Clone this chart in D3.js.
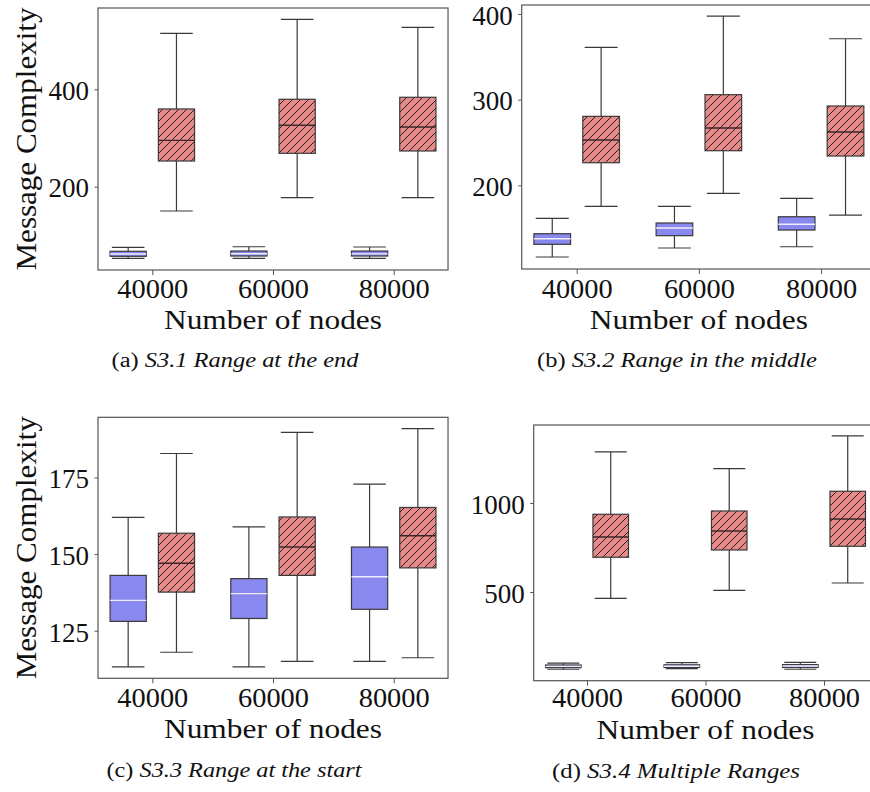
<!DOCTYPE html>
<html>
<head>
<meta charset="utf-8">
<script src="https://cdn.jsdelivr.net/npm/d3@7/dist/d3.min.js"></script>
<style>
  html, body { margin: 0; padding: 0; background: #fff; }
  svg { display: block; }
  text { font-family: "Liberation Serif", "DejaVu Serif", serif; }
</style>
</head>
<body>
<svg id="chart" width="870" height="792"></svg>
<script>
// ---------- data ----------
const categories = ["40000", "60000", "80000"];
const xLabel = "Number of nodes";
const yLabel = "Message Complexity";

// each entry: [lower whisker, Q1, median, Q3, upper whisker]
const blueA = [[52.8, 56.9, 61.6, 67.2, 75.4], [52.8, 57.5, 62.3, 67.8, 76.6], [52.8, 57.5, 62.0, 67.8, 76.0]];
const redA  = [[150, 252.7, 295, 359.6, 515], [177.3, 268.5, 326, 379.5, 543.8], [177.3, 273.3, 322.6, 383.6, 527.4]];
const blueB = [[116.3, 131.1, 137.7, 143.5, 161.5], [126.8, 141.2, 150.2, 156, 175.5], [128.3, 147.8, 154.5, 163.3, 184.8]];
const redB  = [[175.5, 226.4, 252.9, 280.5, 361], [190.7, 240.4, 266.9, 305.8, 397.6], [165.3, 234.2, 262.2, 292.6, 371.1]];
const blueC = [[113.2, 128.05, 134.9, 143.05, 162], [113.2, 129, 137.1, 142, 158.9], [115, 132, 142.6, 152.3, 172.8]];
const redC  = [[118, 137.6, 147, 156.8, 182.8], [115, 143.05, 152.3, 162.1, 189.7], [116.2, 145.5, 156, 165.2, 190.9]];
const blueD = [[66, 75, 82, 90, 100], [69, 76, 83, 91, 103], [66, 76, 84, 92, 105]];
const redD  = [[464.6, 695, 809, 936.5, 1286.5], [509.5, 736, 842.7, 955, 1192.7], [550.6, 756.7, 910, 1065.7, 1376.4]];

const yDomainA = [28.8, 567];    const yTicksA = [200, 400];
const yDomainB = [102.3, 410.5]; const yTicksB = [200, 300, 400];
const yDomainC = [109.5, 194.6]; const yTicksC = [125, 150, 175];
const yDomainD = [1.7, 1438];    const yTicksD = [500, 1000];

const captionLetters = ["(a) ", "(b) ", "(c) ", "(d) "];
const captionTitles = ["S3.1 Range at the end", "S3.2 Range in the middle", "S3.3 Range at the start", "S3.4 Multiple Ranges"];

// ---------- styles ----------
const blueFill = "#8888ee";
const redFill = "#e88a8a";
const edge = "#3a3a3a";
const frameColor = "#555";
const serif = '"Liberation Serif", "DejaVu Serif", serif';

const svg = d3.select("#chart");

// hatch pattern
const defs = svg.append("defs");
const pat = defs.append("pattern")
  .attr("id", "hatch").attr("patternUnits", "userSpaceOnUse")
  .attr("width", 8).attr("height", 8);
pat.append("rect").attr("width", 8).attr("height", 8).attr("fill", redFill);
pat.append("path").attr("d", "M-2,2 L2,-2 M0,8 L8,0 M6,10 L10,6")
  .attr("stroke", "#222").attr("stroke-width", 1);

const panels = [
  { blue: blueA, red: redA, yDomain: yDomainA, yTicks: yTicksA, left: 98, top: 8, step: 120.7, bottom: 270, showY: true,
    tickBase: 298, labelBase: 328.5, capX: 235, capY: 367, capW: 247 },
  { blue: blueB, red: redB, yDomain: yDomainB, yTicks: yTicksB, left: 521.7, top: 5, step: 122.2, bottom: 269, showY: false,
    tickBase: 298, labelBase: 328.5, capX: 677, capY: 367, capW: 280 },
  { blue: blueC, red: redC, yDomain: yDomainC, yTicks: yTicksC, left: 98, top: 417.3, step: 120.7, bottom: 678.3, showY: true,
    tickBase: 707.5, labelBase: 737.5, capX: 234, capY: 777, capW: 255 },
  { blue: blueD, red: redD, yDomain: yDomainD, yTicks: yTicksD, left: 533.7, top: 425, step: 118.5, bottom: 680.7, showY: false,
    tickBase: 707.5, labelBase: 739, capX: 676, capY: 778, capW: 248 }
];

panels.forEach((p, pi) => {
  const right = p.left + 2.9 * p.step;
  const x = d3.scaleLinear().domain([-0.45, 2.45]).range([p.left, right]);
  const y = d3.scaleLinear().domain(p.yDomain).range([p.bottom, p.top]);
  const g = svg.append("g");

  const bw = 0.3 * p.step;
  const capW = 0.45 * bw;

  function drawBoxes(stats, offset, fill, medColor) {
    stats.forEach((s, i) => {
      const cx = x(i + offset);
      const [lo, q1, med, q3, hi] = s;
      const bg = g.append("g");
      bg.append("line").attr("x1", cx).attr("x2", cx).attr("y1", y(q3)).attr("y2", y(hi))
        .attr("stroke", edge).attr("stroke-width", 1.2);
      bg.append("line").attr("x1", cx).attr("x2", cx).attr("y1", y(lo)).attr("y2", y(q1))
        .attr("stroke", edge).attr("stroke-width", 1.2);
      bg.append("line").attr("x1", cx - capW).attr("x2", cx + capW).attr("y1", y(hi)).attr("y2", y(hi))
        .attr("stroke", edge).attr("stroke-width", 1.2);
      bg.append("line").attr("x1", cx - capW).attr("x2", cx + capW).attr("y1", y(lo)).attr("y2", y(lo))
        .attr("stroke", edge).attr("stroke-width", 1.2);
      bg.append("rect").attr("x", cx - bw / 2).attr("width", bw)
        .attr("y", y(q3)).attr("height", y(q1) - y(q3))
        .attr("fill", fill).attr("stroke", edge).attr("stroke-width", 1.2);
      bg.append("line").attr("x1", cx - bw / 2).attr("x2", cx + bw / 2).attr("y1", y(med)).attr("y2", y(med))
        .attr("stroke", medColor).attr("stroke-width", 1.4);
    });
  }
  drawBoxes(p.blue, -0.2, blueFill, "#eeeefa");
  drawBoxes(p.red, 0.2, "url(#hatch)", "#3a2626");

  // frame
  g.append("rect").attr("x", p.left).attr("y", p.top).attr("width", right - p.left).attr("height", p.bottom - p.top)
    .attr("fill", "none").attr("stroke", frameColor).attr("stroke-width", 1.2);

  // x axis ticks
  const xa = g.append("g").attr("transform", `translate(0,${p.bottom})`)
    .call(d3.axisBottom(x).tickValues([0, 1, 2]).tickFormat(i => categories[i]).tickSize(5).tickPadding(3));
  xa.attr("font-family", null);
  xa.select(".domain").remove();
  xa.selectAll(".tick line").attr("stroke", frameColor).attr("stroke-width", 1);
  xa.selectAll(".tick text").style("font-family", serif).attr("font-size", 27).attr("fill", "#111")
    .attr("dy", null).attr("y", p.tickBase - p.bottom)
    .attr("textLength", 71).attr("lengthAdjust", "spacingAndGlyphs");

  // y axis ticks
  const ya = g.append("g").attr("transform", `translate(${p.left},0)`)
    .call(d3.axisLeft(y).tickValues(p.yTicks).tickFormat(d3.format("d")).tickSize(3.5).tickPadding(5.5));
  ya.attr("font-family", null);
  ya.select(".domain").remove();
  ya.selectAll(".tick line").attr("stroke", frameColor).attr("stroke-width", 1);
  ya.selectAll(".tick text").style("font-family", serif).attr("font-size", 27).attr("fill", "#111").attr("dy", "0.38em");

  // x label
  g.append("text").attr("x", (p.left + right) / 2).attr("y", p.labelBase)
    .attr("text-anchor", "middle").style("font-family", serif).attr("font-size", 28).attr("fill", "#111")
    .attr("textLength", 218).attr("lengthAdjust", "spacingAndGlyphs")
    .text(xLabel);

  if (p.showY) {
    const cy = (p.top + p.bottom) / 2;
    g.append("text").attr("transform", `translate(36,${cy}) rotate(-90)`)
      .attr("text-anchor", "middle").style("font-family", serif).attr("font-size", 29).attr("fill", "#111")
      .attr("textLength", 263).attr("lengthAdjust", "spacingAndGlyphs")
      .text(yLabel);
  }

  // caption
  const cap = svg.append("text").attr("x", p.capX).attr("y", p.capY).attr("text-anchor", "middle")
    .style("font-family", serif).attr("font-size", 20).attr("fill", "#111")
    .attr("textLength", p.capW).attr("lengthAdjust", "spacingAndGlyphs");
  cap.append("tspan").text(captionLetters[pi]);
  cap.append("tspan").attr("font-style", "italic").text(captionTitles[pi]);
});
</script>
</body>
</html>
